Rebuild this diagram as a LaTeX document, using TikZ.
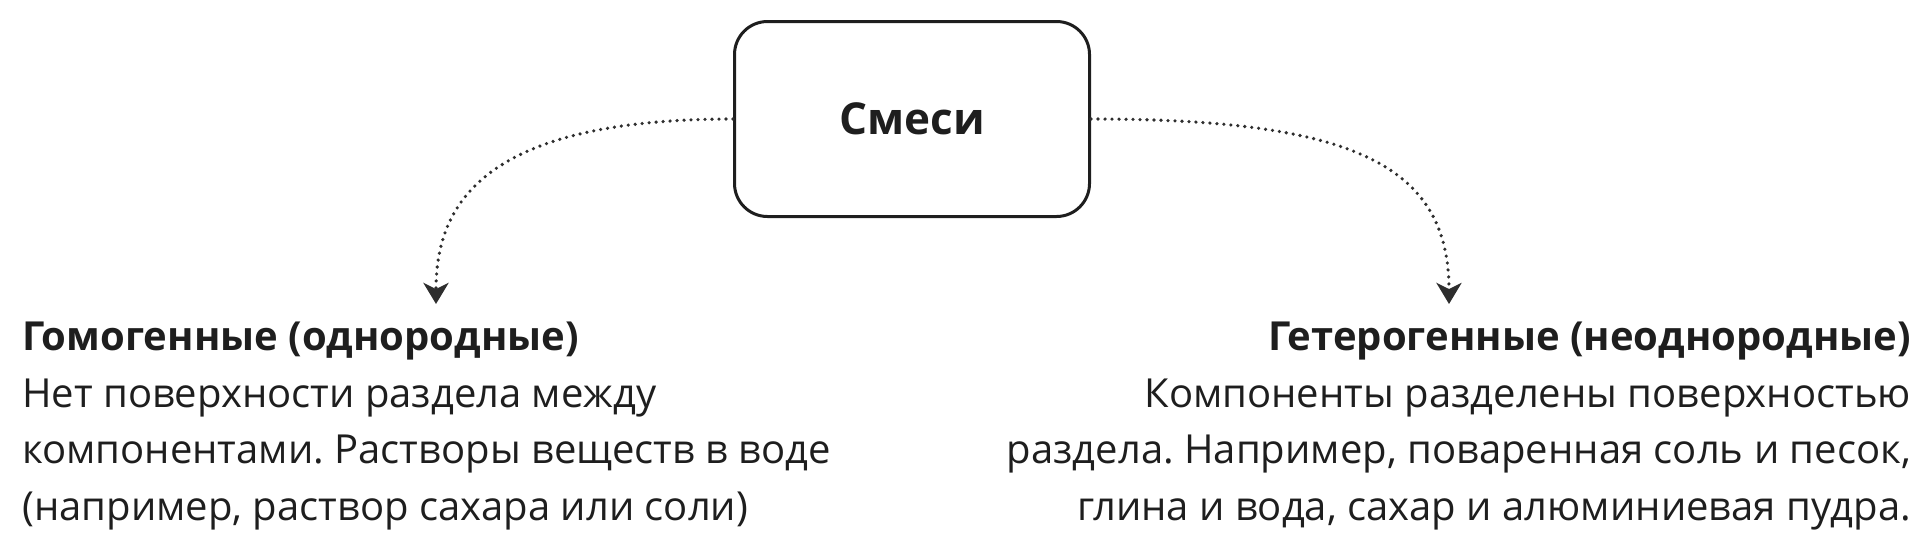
\documentclass[tikz,border=0pt]{standalone}
\usepackage{fontspec}
\setmainfont{Open Sans}
\usepackage{xcolor}
\usetikzlibrary{arrows.meta}
\frenchspacing

\definecolor{ink}{HTML}{1E1E1E}
\definecolor{dots}{HTML}{2E2E2E}

\begin{document}
\begin{tikzpicture}[x=1pt,y=-1pt,
  mixbox/.style={draw=ink,line width=3pt,rounded corners=33pt,minimum width=355pt,minimum height=195pt,text=ink,font=\fontsize{44}{50}\selectfont\bfseries},
  head/.style={inner sep=0pt,text=ink,font=\fontsize{40}{56.7}\selectfont\bfseries},
  body/.style={inner sep=0pt,text=ink,font=\fontsize{40}{56.7}\selectfont},
  link/.style={dots,line width=3.6pt,line cap=round,dash pattern=on 0pt off 7pt,-{Stealth[length=21pt,width=25pt,inset=6pt,line join=miter]}}]
\useasboundingbox (0,0) rectangle (1926,558);

\node[mixbox] (mix) at (912,119) {Смеси};

\node[head,anchor=base west] (homo) at (22,350) {Гомогенные (однородные)};
\node[head,anchor=base east] (hetero) at (1911,350) {Гетерогенные (неоднородные)};

\node[body,align=left,anchor=north west] (homotext) at ([yshift=-28.5pt]homo.base west)
  {Нет поверхности раздела между\\компонентами. Растворы веществ в воде\\(например, раствор сахара или соли)};
\node[body,align=right,anchor=north east] (heterotext) at ([yshift=-28.5pt]hetero.base east)
  {Компоненты разделены поверхностью\\раздела. Например, поваренная соль и песок,\\глина и вода, сахар и алюминиевая пудра.};

\draw[link] (mix.west) .. controls +(-250,0) and +(0,-100) .. ([xshift=414pt,yshift=46pt]homo.base west);
\draw[link] (mix.east) .. controls +(260,0) and +(0,-140) .. ([xshift=-462pt,yshift=46pt]hetero.base east);
\end{tikzpicture}
\end{document}
